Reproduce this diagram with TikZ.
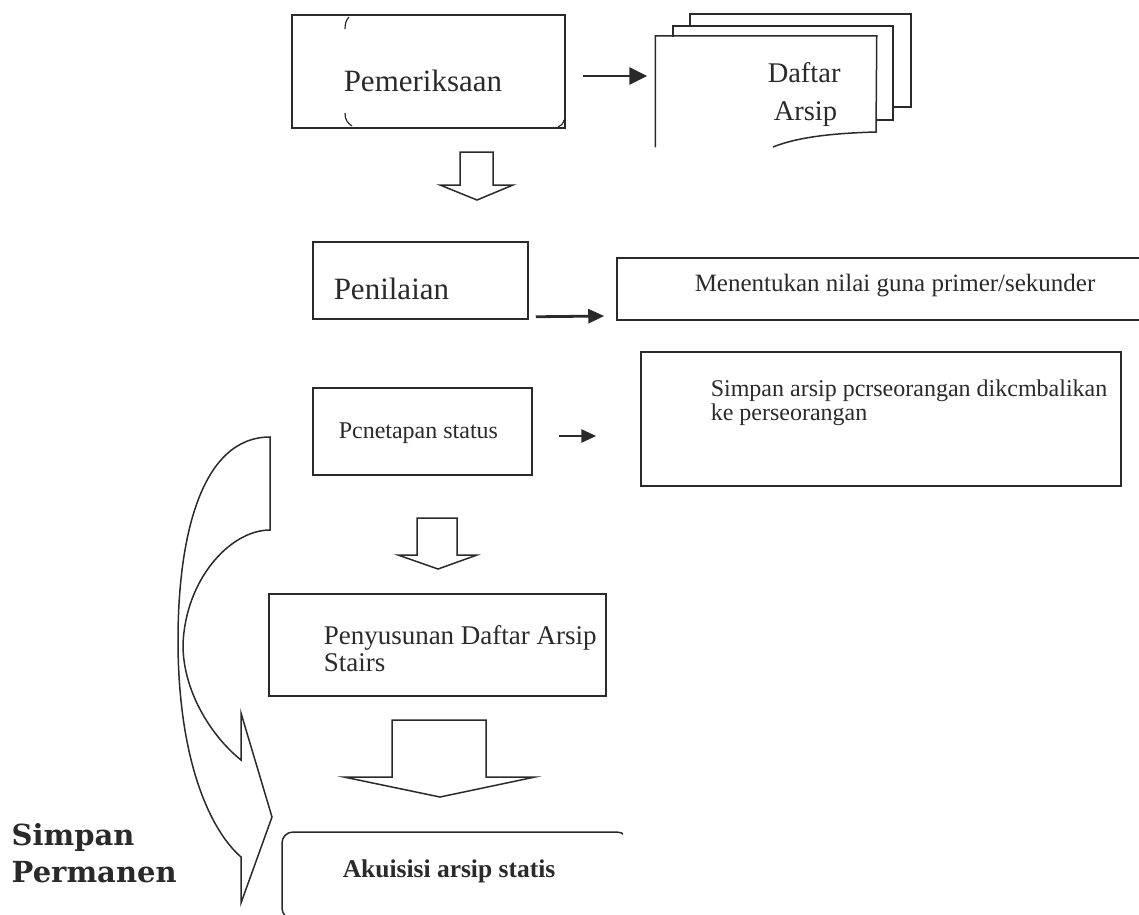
\documentclass[tikz,border=0pt]{standalone}
\usepackage{fontspec}
\setmainfont{Liberation Serif}
\newfontfamily\slabfont{DejaVu Serif}
\usetikzlibrary{arrows.meta}
\definecolor{ink}{HTML}{2A2A2A}
\begin{document}
\begin{tikzpicture}[x=1pt,y=-1pt,color=ink,line width=1.5pt,
  box/.style={draw,rectangle,inner sep=0pt},
  lbl/.style={inner sep=0pt,anchor=base west,align=left},
  flow/.style={line width=2.8pt,-{Triangle[length=#1]}},
  flow/.default={15pt,width=12pt},
  blockarrow/.style={line width=1.5pt,line join=miter},
  f31/.style={font=\fontsize{31}{36}\selectfont},
  f28/.style={font=\fontsize{28.5}{38}\selectfont},
  f25/.style={font=\fontsize{25}{28}\selectfont},
  f24/.style={font=\fontsize{24}{23.5}\selectfont},
  f27/.style={font=\fontsize{27}{26.5}\selectfont},
  fb/.style={font=\bfseries\fontsize{25.5}{28}\selectfont},
  fslab/.style={font=\slabfont\bfseries\fontsize{29}{37}\selectfont}]
\useasboundingbox (0,0) rectangle (1139,914);
\begin{scope}
\clip (0,0) rectangle (1139,914);

% process boxes
\node[box,minimum width=273pt,minimum height=113pt] (pem) at (428.5,71.5) {};
\node[box,minimum width=215pt,minimum height=77pt] (pen) at (420.5,280.5) {};
\node[box,minimum width=219pt,minimum height=87pt] (pcn) at (422.5,431.5) {};
\node[box,minimum width=337pt,minimum height=102pt] (peny) at (437.5,645) {};
\node[box,minimum width=533pt,minimum height=62pt] (ment) at (883.5,289) {};
\node[box,minimum width=480pt,minimum height=134pt] (simp) at (881,419) {};

% the last box runs off the lower right of the sheet
\begin{scope}
\clip (0,0) rectangle (623,914);
\node[box,rounded corners=11pt,minimum width=346pt,minimum height=87pt] (aku) at (455,875.5) {};
\end{scope}

% stray corner marks on the first box
\draw[line width=1.2pt] (349,17) .. controls (346,20) and (345,24) .. (345,29);
\draw[line width=1.2pt] (345,113) .. controls (345,119) and (347,123) .. (352,126);
\draw[line width=1.2pt] (558,127) .. controls (561,126) and (563,124) .. (564,120);

% stacked document sheets
\node[inner sep=0pt,minimum width=220pt,minimum height=110pt] (doc) at (766,91.5) {};
\draw (690,26) -- (690,14) -- (911,14) -- (911,107) -- (893,107);
\draw (673,37) -- (673,26) -- (893,26) -- (893,120) -- (876,120);
\draw (doc.south west) -- (doc.north west) -- (doc.north east) -- (876,132)
      .. controls (840,133) and (800,136) .. (773,147);

% labels
\node[lbl,f31] at (343,91) {Pemeriksaan};
\node[lbl,f28] at (767,82) {Daftar};
\node[lbl,f28] at (773,120) {Arsip};
\node[lbl,f31] at (333,299) {Penilaian};
\node[lbl,f25] at (694,291) {Menentukan nilai guna primer/sekunder};
\node[lbl,f24] at (710,420) {Simpan arsip pcrseorangan dikcmbalikan\\ke perseorangan};
\node[lbl,f24] at (338,438) {Pcnetapan status};
\node[lbl,f27] at (323,671) {Penyusunan Daftar Arsip\\Stairs};
\node[lbl,fb] at (342,877) {Akuisisi arsip statis};
\node[lbl,fslab] (perm) at (11,882) {Simpan\\Permanen};

% side connectors
\draw[flow={18pt,width=17pt}] ([shift={(17,4.5)}]pem.east) -- ([shift={(-8,-15.5)}]doc.west);
\draw[flow={16pt,width=14pt}] ([shift={(7,-3)}]pen.south east) -- ([shift={(-12,27)}]ment.west);
\draw[flow={15pt,width=13pt}] ([shift={(26,4.5)}]pcn.east) -- ([shift={(-44,17)}]simp.west);

% hollow block arrows down the main column
\draw[blockarrow] (460,152) -- (493,152) -- (493,185) -- (513,185) -- (477,200)
      -- (440,185) -- (460,185) -- cycle;
\draw[blockarrow] (417,518) -- (457,518) -- (457,555) -- (477,555) -- (438,569)
      -- (398,555) -- (417,555) -- cycle;
\draw[blockarrow] (392,720) -- (486,720) -- (486,777) -- (535,777) -- (440,797)
      -- (344,777) -- (392,777) -- cycle;

% curved arrow for permanent storage
\draw[blockarrow] (270,437) -- (270,530)
      .. controls (230,530) and (185,580) .. (183,645)
      .. controls (183,690) and (210,735) .. (241,760)
      -- (241,713) -- (272,817) -- (241,903) -- (241,857)
      .. controls (210,830) and (178,760) .. (178,640)
      .. controls (178,540) and (200,437) .. (270,437) -- cycle;
\end{scope}
\end{tikzpicture}
\end{document}
